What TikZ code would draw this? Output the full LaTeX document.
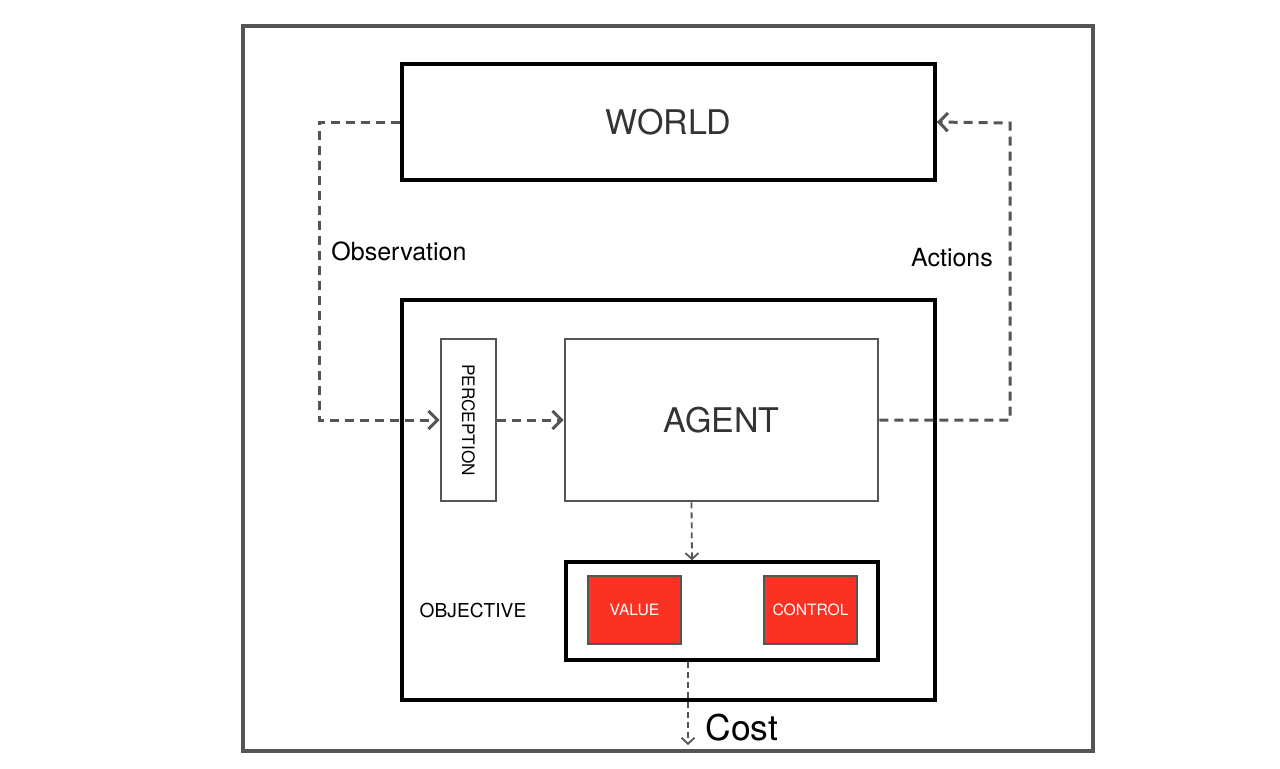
\documentclass[tikz,border=0pt]{standalone}
\usepackage{graphicx}
\usepackage{fontspec}
\setmainfont{TeX Gyre Heros}
\usetikzlibrary{arrows.meta}
\definecolor{linegray}{RGB}{85,85,85}
\definecolor{textgray}{RGB}{51,51,51}
\definecolor{boxred}{RGB}{249,50,36}
\tikzset{
  blackbox/.style={draw=black, line width=1.7pt, inner sep=0pt},
  graybox/.style={draw=linegray, line width=1.4pt, inner sep=0pt},
  redbox/.style={draw=linegray, line width=1.1pt, fill=boxred, text=white, inner sep=0pt,
    minimum width=46.5pt, minimum height=34pt, font=\fontsize{7.8}{9}\selectfont},
  flow/.style={draw=linegray, line width=1.5pt, dash pattern=on 4.5pt off 3pt,
    -{Straight Barb[length=4.5pt,width=9pt]}},
  thinflow/.style={draw=linegray, line width=0.9pt, dash pattern=on 3pt off 2pt,
    -{Straight Barb[length=3pt,width=6.5pt]}},
}
\begin{document}
\begin{tikzpicture}[x=0.5pt,y=-0.5pt]
  \useasboundingbox (0,0) rectangle (1280,768);
  \draw[linegray, line width=2.4pt] (243,26) rectangle (1093,751);% frame

  \node (world) [blackbox, minimum width=266.5pt, minimum height=58pt, text=textgray,
    font=\fontsize{17}{20}\selectfont] at (668.5,122) {WORLD};
  \node (system) [blackbox, minimum width=266.5pt, minimum height=200pt] at (668.5,500) {};
  \node (perception) [graybox, minimum width=27.5pt, minimum height=81pt,
    font=\fontsize{8.6}{10}\selectfont] at (468.5,420) {\rotatebox{-90}{PERCEPTION}};
  \node (agent) [graybox, minimum width=156.5pt, minimum height=81pt, text=textgray,
    font=\fontsize{17}{20}\selectfont] at (721.5,420) {AGENT};
  \node (objective) [blackbox, minimum width=156pt, minimum height=49pt] at (722,611) {};
  \node (value) [redbox] at (634.5,610) {VALUE};
  \node (control) [redbox] at (810.5,610) {CONTROL};

  \node (objlabel) [font=\fontsize{9.6}{11}\selectfont] at (473,610) {OBJECTIVE};
  \node (obslabel) [font=\fontsize{12.5}{15}\selectfont] at (399,251) {Observation};
  \node (actlabel) [font=\fontsize{12.5}{15}\selectfont] at (952,258) {Actions};
  \node (costlabel) [font=\fontsize{17.7}{21}\selectfont] at (742,728) {Cost};

  \coordinate (obsturn) at (319,420);
  \coordinate (actturn) at (1010,123);
  \coordinate (costend) at (688,745);

  \draw[flow] (world.west) -| (obsturn) -- (perception.west);% observation
  \draw[flow] (perception.east) -- (agent.west);
  \draw[flow] (agent.east) -| (actturn) -- (world.east);% actions
  \draw[thinflow] ([xshift=-15pt]agent.south) -- ([xshift=-15pt]objective.north);
  \draw[thinflow] ([xshift=-17pt]objective.south) -- (costend);% cost
\end{tikzpicture}
\end{document}
